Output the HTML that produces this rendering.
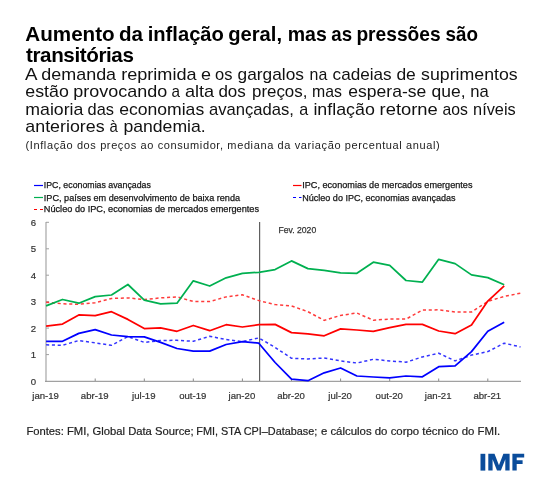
<!DOCTYPE html>
<html><head><meta charset="utf-8">
<style>
html,body{margin:0;padding:0;background:#fff;}
body{width:550px;height:480px;position:relative;overflow:hidden;font-family:"Liberation Sans",sans-serif;}
svg{position:absolute;left:0;top:0;will-change:transform;}
</style></head><body>
<svg width="550" height="480" viewBox="0 0 550 480" font-family="Liberation Sans">
<g>
<line x1="34" y1="185.5" x2="43" y2="185.5" stroke="#0000ff" stroke-width="1.2"/>
<line x1="34" y1="197.5" x2="43" y2="197.5" stroke="#00b050" stroke-width="1.2"/>
<line x1="34" y1="209.5" x2="43" y2="209.5" stroke="#ff0000" stroke-width="1.2" stroke-dasharray="3,3"/>
<line x1="293" y1="185.5" x2="301.5" y2="185.5" stroke="#ff0000" stroke-width="1.2"/>
<line x1="293" y1="197.5" x2="301.5" y2="197.5" stroke="#0000ff" stroke-width="1.2" stroke-dasharray="3,3"/>
</g>
<text id="w_t1_0" x="25.30" y="41.4" font-size="20.6" font-weight="bold" fill="#000" textLength="89.40" lengthAdjust="spacingAndGlyphs">Aumento</text>
<text id="w_t1_1" x="119.00" y="41.4" font-size="20.6" font-weight="bold" fill="#000" textLength="24.00" lengthAdjust="spacingAndGlyphs">da</text>
<text id="w_t1_2" x="147.70" y="41.4" font-size="20.6" font-weight="bold" fill="#000" textLength="76.20" lengthAdjust="spacingAndGlyphs">inflação</text>
<text id="w_t1_3" x="228.20" y="41.4" font-size="20.6" font-weight="bold" fill="#000" textLength="53.90" lengthAdjust="spacingAndGlyphs">geral,</text>
<text id="w_t1_4" x="287.70" y="41.4" font-size="20.6" font-weight="bold" fill="#000" textLength="39.10" lengthAdjust="spacingAndGlyphs">mas</text>
<text id="w_t1_5" x="331.30" y="41.4" font-size="20.6" font-weight="bold" fill="#000" textLength="20.80" lengthAdjust="spacingAndGlyphs">as</text>
<text id="w_t1_6" x="356.40" y="41.4" font-size="20.6" font-weight="bold" fill="#000" textLength="84.30" lengthAdjust="spacingAndGlyphs">pressões</text>
<text id="w_t1_7" x="445.50" y="41.4" font-size="20.6" font-weight="bold" fill="#000" textLength="32.50" lengthAdjust="spacingAndGlyphs">são</text>
<text id="t2" x="26" y="61.5" font-size="20.6" font-weight="bold" fill="#000" text-anchor="start" letter-spacing="-0.388">transitórias</text>
<text id="w_s1_0" x="24.90" y="79.5" font-size="17" font-weight="normal" fill="#111" textLength="12.50" lengthAdjust="spacingAndGlyphs">A</text>
<text id="w_s1_1" x="41.30" y="79.5" font-size="17" font-weight="normal" fill="#111" textLength="74.80" lengthAdjust="spacingAndGlyphs">demanda</text>
<text id="w_s1_2" x="121.20" y="79.5" font-size="17" font-weight="normal" fill="#111" textLength="75.40" lengthAdjust="spacingAndGlyphs">reprimida</text>
<text id="w_s1_3" x="201.00" y="79.5" font-size="17" font-weight="normal" fill="#111" textLength="10.00" lengthAdjust="spacingAndGlyphs">e</text>
<text id="w_s1_4" x="215.10" y="79.5" font-size="17" font-weight="normal" fill="#111" textLength="17.40" lengthAdjust="spacingAndGlyphs">os</text>
<text id="w_s1_5" x="237.60" y="79.5" font-size="17" font-weight="normal" fill="#111" textLength="66.30" lengthAdjust="spacingAndGlyphs">gargalos</text>
<text id="w_s1_6" x="309.60" y="79.5" font-size="17" font-weight="normal" fill="#111" textLength="17.70" lengthAdjust="spacingAndGlyphs">na</text>
<text id="w_s1_7" x="332.60" y="79.5" font-size="17" font-weight="normal" fill="#111" textLength="59.00" lengthAdjust="spacingAndGlyphs">cadeias</text>
<text id="w_s1_8" x="396.40" y="79.5" font-size="17" font-weight="normal" fill="#111" textLength="19.40" lengthAdjust="spacingAndGlyphs">de</text>
<text id="w_s1_9" x="421.10" y="79.5" font-size="17" font-weight="normal" fill="#111" textLength="96.60" lengthAdjust="spacingAndGlyphs">suprimentos</text>
<text id="w_s2_0" x="25.30" y="97.0" font-size="17" font-weight="normal" fill="#111" textLength="43.50" lengthAdjust="spacingAndGlyphs">estão</text>
<text id="w_s2_1" x="73.30" y="97.0" font-size="17" font-weight="normal" fill="#111" textLength="93.90" lengthAdjust="spacingAndGlyphs">provocando</text>
<text id="w_s2_2" x="171.60" y="97.0" font-size="17" font-weight="normal" fill="#111" textLength="8.50" lengthAdjust="spacingAndGlyphs">a</text>
<text id="w_s2_3" x="185.00" y="97.0" font-size="17" font-weight="normal" fill="#111" textLength="29.20" lengthAdjust="spacingAndGlyphs">alta</text>
<text id="w_s2_4" x="218.40" y="97.0" font-size="17" font-weight="normal" fill="#111" textLength="27.40" lengthAdjust="spacingAndGlyphs">dos</text>
<text id="w_s2_5" x="252.00" y="97.0" font-size="17" font-weight="normal" fill="#111" textLength="55.40" lengthAdjust="spacingAndGlyphs">preços,</text>
<text id="w_s2_6" x="312.10" y="97.0" font-size="17" font-weight="normal" fill="#111" textLength="29.90" lengthAdjust="spacingAndGlyphs">mas</text>
<text id="w_s2_7" x="348.30" y="97.0" font-size="17" font-weight="normal" fill="#111" textLength="78.00" lengthAdjust="spacingAndGlyphs">espera-se</text>
<text id="w_s2_8" x="431.50" y="97.0" font-size="17" font-weight="normal" fill="#111" textLength="34.00" lengthAdjust="spacingAndGlyphs">que,</text>
<text id="w_s2_9" x="470.20" y="97.0" font-size="17" font-weight="normal" fill="#111" textLength="18.50" lengthAdjust="spacingAndGlyphs">na</text>
<text id="w_s3_0" x="25.30" y="114.5" font-size="17" font-weight="normal" fill="#111" textLength="58.10" lengthAdjust="spacingAndGlyphs">maioria</text>
<text id="w_s3_1" x="87.60" y="114.5" font-size="17" font-weight="normal" fill="#111" textLength="26.40" lengthAdjust="spacingAndGlyphs">das</text>
<text id="w_s3_2" x="119.20" y="114.5" font-size="17" font-weight="normal" fill="#111" textLength="85.00" lengthAdjust="spacingAndGlyphs">economias</text>
<text id="w_s3_3" x="208.90" y="114.5" font-size="17" font-weight="normal" fill="#111" textLength="85.00" lengthAdjust="spacingAndGlyphs">avançadas,</text>
<text id="w_s3_4" x="299.20" y="114.5" font-size="17" font-weight="normal" fill="#111" textLength="9.00" lengthAdjust="spacingAndGlyphs">a</text>
<text id="w_s3_5" x="313.40" y="114.5" font-size="17" font-weight="normal" fill="#111" textLength="61.50" lengthAdjust="spacingAndGlyphs">inflação</text>
<text id="w_s3_6" x="379.60" y="114.5" font-size="17" font-weight="normal" fill="#111" textLength="58.20" lengthAdjust="spacingAndGlyphs">retorne</text>
<text id="w_s3_7" x="442.50" y="114.5" font-size="17" font-weight="normal" fill="#111" textLength="25.40" lengthAdjust="spacingAndGlyphs">aos</text>
<text id="w_s3_8" x="473.10" y="114.5" font-size="17" font-weight="normal" fill="#111" textLength="42.60" lengthAdjust="spacingAndGlyphs">níveis</text>
<text id="w_s4_0" x="25.30" y="132.1" font-size="17" font-weight="normal" fill="#111" textLength="79.30" lengthAdjust="spacingAndGlyphs">anteriores</text>
<text id="w_s4_1" x="109.40" y="132.1" font-size="17" font-weight="normal" fill="#111" textLength="8.30" lengthAdjust="spacingAndGlyphs">à</text>
<text id="w_s4_2" x="123.40" y="132.1" font-size="17" font-weight="normal" fill="#111" textLength="82.30" lengthAdjust="spacingAndGlyphs">pandemia.</text>
<text id="n1" x="25.5" y="148.7" font-size="11" font-weight="normal" fill="#222" text-anchor="start" letter-spacing="0.614">(Inflação dos preços ao consumidor, mediana da variação percentual anual)</text>
<text id="l1" x="43.8" y="188.4" font-size="9.4" font-weight="normal" fill="#151515" textLength="107.1" lengthAdjust="spacingAndGlyphs" stroke="#151515" stroke-width="0.25">IPC, economias avançadas</text>
<text id="l2" x="43.8" y="200.5" font-size="9.4" font-weight="normal" fill="#151515" textLength="196.3" lengthAdjust="spacingAndGlyphs" stroke="#151515" stroke-width="0.25">IPC, países em desenvolvimento de baixa renda</text>
<text id="l3" x="43.8" y="212.0" font-size="9.4" font-weight="normal" fill="#151515" textLength="215.2" lengthAdjust="spacingAndGlyphs" stroke="#151515" stroke-width="0.25">Núcleo do IPC, economias de mercados emergentes</text>
<text id="l4" x="302.2" y="188.4" font-size="9.4" font-weight="normal" fill="#151515" textLength="170.3" lengthAdjust="spacingAndGlyphs" stroke="#151515" stroke-width="0.25">IPC, economias de mercados emergentes</text>
<text id="l5" x="302.2" y="200.5" font-size="9.4" font-weight="normal" fill="#151515" textLength="153.4" lengthAdjust="spacingAndGlyphs" stroke="#151515" stroke-width="0.25">Núcleo do IPC, economias avançadas</text>
<text id="fev" x="278.4" y="233.4" font-size="9.4" font-weight="normal" fill="#333" textLength="37.8" lengthAdjust="spacingAndGlyphs" stroke="#333" stroke-width="0.25">Fev. 2020</text>
<text id="src1" x="26.4" y="434.9" font-size="11" font-weight="normal" fill="#222" textLength="167.3" lengthAdjust="spacingAndGlyphs" stroke="#222" stroke-width="0.2">Fontes: FMI, Global Data Source;</text>
<text id="src2" x="196.3" y="434.9" font-size="11" font-weight="normal" fill="#222" textLength="121.0" lengthAdjust="spacingAndGlyphs" stroke="#222" stroke-width="0.2">FMI, STA CPI–Database;</text>
<text id="src3" x="320.9" y="434.9" font-size="11" font-weight="normal" fill="#222" textLength="179.4" lengthAdjust="spacingAndGlyphs" stroke="#222" stroke-width="0.2">e cálculos do corpo técnico do FMI.</text>

<g fill="#0a4c9b">
<rect x="480.5" y="453.8" width="4.8" height="16.8"/>
<path d="M488.3,470.6 V453.8 H494.5 L498.95,465.2 L503.4,453.8 H509.6 V470.6 H505.3 V459.2 L500.9,470.6 H497.0 L492.6,459.2 V470.6 Z"/>
<path d="M512.4,470.6 V453.8 H524.2 V457.6 H516.7 V460.3 H522.6 V464.0 H516.7 V470.6 Z"/>
</g>
<g stroke="#c4c4c4" stroke-width="1.8"><line x1="46" y1="222" x2="46" y2="381.5"/></g>
<g stroke="#a0a0a0" stroke-width="1"><line x1="46" y1="354.6" x2="49" y2="354.6"/><line x1="46" y1="328.1" x2="49" y2="328.1"/><line x1="46" y1="301.6" x2="49" y2="301.6"/><line x1="46" y1="275.2" x2="49" y2="275.2"/><line x1="46" y1="248.8" x2="49" y2="248.8"/><line x1="46" y1="222.3" x2="49" y2="222.3"/></g>
<g stroke="#8a8a8a" stroke-width="1"><line x1="45" y1="381.3" x2="521" y2="381.3"/><line x1="95.2" y1="378.5" x2="95.2" y2="381"/><line x1="144.3" y1="378.5" x2="144.3" y2="381"/><line x1="193.3" y1="378.5" x2="193.3" y2="381"/><line x1="242.4" y1="378.5" x2="242.4" y2="381"/><line x1="291.5" y1="378.5" x2="291.5" y2="381"/><line x1="340.6" y1="378.5" x2="340.6" y2="381"/><line x1="389.7" y1="378.5" x2="389.7" y2="381"/><line x1="438.7" y1="378.5" x2="438.7" y2="381"/><line x1="487.8" y1="378.5" x2="487.8" y2="381"/></g>
<line x1="259.6" y1="222" x2="259.6" y2="381" stroke="#606060" stroke-width="1.2"/>
<g font-size="9.6" fill="#333" stroke="#333" stroke-width="0.2" text-anchor="middle"><text x="33.5" y="384.7">0</text><text x="33.5" y="358.2">1</text><text x="33.5" y="331.8">2</text><text x="33.5" y="305.3">3</text><text x="33.5" y="278.9">4</text><text x="33.5" y="252.4">5</text><text x="33.5" y="226.0">6</text></g>
<g font-size="9.6" fill="#333" stroke="#333" stroke-width="0.2" text-anchor="middle"><text x="45.6" y="398.5">jan-19</text><text x="94.7" y="398.5">abr-19</text><text x="143.8" y="398.5">jul-19</text><text x="192.8" y="398.5">out-19</text><text x="241.9" y="398.5">jan-20</text><text x="291.0" y="398.5">abr-20</text><text x="340.1" y="398.5">jul-20</text><text x="389.2" y="398.5">out-20</text><text x="438.2" y="398.5">jan-21</text><text x="487.3" y="398.5">abr-21</text></g>
<g fill="none" stroke-linejoin="round" stroke-linecap="butt">
<polyline points="46.1,302.2 62.5,303.8 78.8,304.3 95.2,302.7 111.5,298.5 127.9,297.9 144.3,299.5 160.6,297.9 177.0,296.9 193.3,301.4 209.7,301.6 226.1,296.9 242.4,294.8 258.8,300.6 275.1,304.6 291.5,305.9 307.9,311.7 324.2,320.4 340.6,315.4 356.9,313.0 373.3,320.2 389.7,319.1 406.0,319.1 422.4,310.1 438.7,309.8 455.1,312.0 471.5,312.0 487.8,301.4 504.2,296.4 520.5,293.2" stroke="#ff3b3b" stroke-width="1.5" stroke-dasharray="3.1,2.7"/>
<polyline points="46.1,344.8 62.5,345.3 78.8,340.5 95.2,342.9 111.5,345.3 127.9,336.6 144.3,342.4 160.6,340.5 177.0,340.3 193.3,341.3 209.7,336.3 226.1,339.5 242.4,341.6 258.8,337.9 275.1,347.4 291.5,358.3 307.9,359.0 324.2,358.0 340.6,360.9 356.9,363.0 373.3,359.3 389.7,360.9 406.0,362.2 422.4,356.9 438.7,353.2 455.1,360.9 471.5,355.1 487.8,351.6 504.2,343.2 520.5,346.9" stroke="#3333ff" stroke-width="1.5" stroke-dasharray="3.1,2.7"/>
<polyline points="46.1,305.9 62.5,299.5 78.8,303.2 95.2,296.6 111.5,295.0 127.9,284.5 144.3,300.1 160.6,303.8 177.0,303.2 193.3,280.8 209.7,286.0 226.1,277.8 242.4,273.3 258.8,272.3 275.1,269.6 291.5,260.9 307.9,268.6 324.2,270.4 340.6,272.8 356.9,273.3 373.3,262.2 389.7,265.4 406.0,280.5 422.4,282.1 438.7,259.3 455.1,263.6 471.5,274.9 487.8,277.6 504.2,284.7" stroke="#00b050" stroke-width="1.75"/>
<polyline points="46.1,326.2 62.5,324.1 78.8,314.9 95.2,315.7 111.5,311.7 127.9,319.4 144.3,328.6 160.6,327.8 177.0,331.3 193.3,325.5 209.7,330.7 226.1,324.7 242.4,327.0 258.8,324.7 275.1,324.4 291.5,332.6 307.9,333.9 324.2,335.8 340.6,328.9 356.9,330.0 373.3,331.3 389.7,327.6 406.0,324.4 422.4,324.4 438.7,331.0 455.1,333.7 471.5,324.9 487.8,301.1 504.2,285.8" stroke="#ff0000" stroke-width="1.75"/>
<polyline points="46.1,341.3 62.5,341.3 78.8,333.4 95.2,329.7 111.5,335.0 127.9,336.6 144.3,336.8 160.6,342.4 177.0,348.5 193.3,351.1 209.7,351.1 226.1,344.5 242.4,341.6 258.8,343.2 275.1,362.5 291.5,379.1 307.9,380.7 324.2,372.8 340.6,368.0 356.9,376.0 373.3,377.0 389.7,377.8 406.0,376.0 422.4,376.8 438.7,366.7 455.1,365.9 471.5,351.6 487.8,331.3 504.2,322.3" stroke="#0000ff" stroke-width="1.75"/>
</g>
</svg>
</body></html>
